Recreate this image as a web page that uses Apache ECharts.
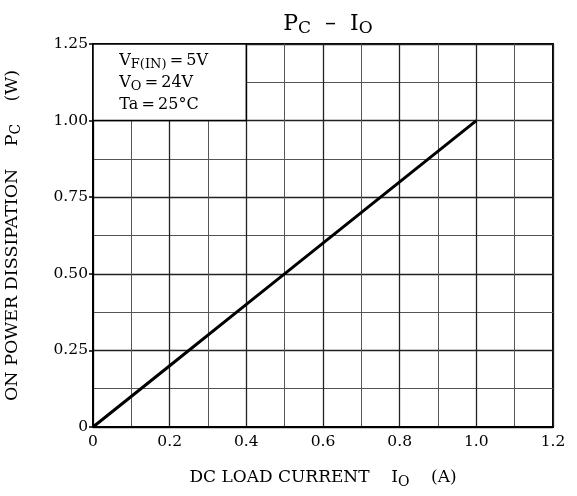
<!DOCTYPE html>
<html>
<head>
<meta charset="utf-8">
<script src="https://cdn.jsdelivr.net/npm/echarts@6/dist/echarts.min.js"></script>
<style>html,body{margin:0;padding:0;background:#fff}#c{width:577px;height:496px}</style>
</head>
<body>
<div id="c"></div>
<script>
var ioValues = [0, 0.2, 0.4, 0.6, 0.8, 1.0];
var pcValues = [0, 0.2, 0.4, 0.6, 0.8, 1.0];
var xTicks = [0, 0.2, 0.4, 0.6, 0.8, 1.0, 1.2];
var yTicks = [0, 0.25, 0.5, 0.75, 1.0, 1.25];
var noteBox = [[0, 1.0], [0.4, 1.25]];

var FONT = 'DejaVu Serif';
var chart = echarts.init(document.getElementById('c'));
var sub = function (s, p) { return { fontSize: s, fontFamily: FONT, color: '#000', fontWeight: 'normal', padding: [p, 0, 0, 0] }; };
var main = function (s) { return { fontSize: s, fontFamily: FONT, color: '#000', fontWeight: 'normal' }; };
var ts = '\u2009';

chart.setOption({
  animation: false,
  title: {
    text: '{m|P}{s|C}{m|  –  I}{s|O}',
    left: 323, top: 6, textAlign: 'center',
    textStyle: { fontWeight: 'normal', rich: { m: main(22), s: sub(17, 9) } }
  },
  grid: { left: 93, right: 24, top: 44, bottom: 69, show: true, borderColor: '#000', borderWidth: 2,
    backgroundColor: 'transparent', containLabel: false, outerBoundsMode: 'none' },
  xAxis: {
    type: 'value', min: 0, max: 1.2, interval: 0.2,
    name: '{m|DC LOAD CURRENT    I}{s|O}{m|    (A)}',
    nameLocation: 'middle', nameGap: 40,
    nameTextStyle: { rich: { m: main(17), s: sub(14, 8) } },
    axisLine: { show: true, lineStyle: { color: '#000', width: 2 } },
    axisTick: { show: false },
    axisLabel: { fontSize: 15.5, fontFamily: FONT, color: '#000', margin: 7,
      formatter: function (v) { return v === 0 ? '0' : v.toFixed(1); } },
    splitLine: { show: true, lineStyle: { color: '#222', width: 1.3 } },
    minorTick: { show: false, splitNumber: 2 },
    minorSplitLine: { show: true, lineStyle: { color: '#555', width: 1 } }
  },
  yAxis: {
    type: 'value', min: 0, max: 1.25, interval: 0.25,
    name: '{m|ON POWER DISSIPATION    P}{s|C}{m|    (W)}',
    nameLocation: 'middle', nameGap: 70, nameRotate: 90,
    nameTextStyle: { rich: { m: main(17.5), s: sub(14, 8) } },
    axisLine: { show: true, lineStyle: { color: '#000', width: 2 } },
    axisTick: { show: true, length: 4, lineStyle: { color: '#000', width: 1.5 } },
    axisLabel: { fontSize: 15.5, fontFamily: FONT, color: '#000', margin: 5,
      formatter: function (v) { return v === 0 ? '0' : v.toFixed(2); } },
    splitLine: { show: true, lineStyle: { color: '#222', width: 1.3 } },
    minorTick: { show: false, splitNumber: 2 },
    minorSplitLine: { show: true, lineStyle: { color: '#555', width: 1 } }
  },
  series: [{
    type: 'line',
    data: ioValues.map(function (x, i) { return [x, pcValues[i]]; }),
    symbol: 'none',
    lineStyle: { color: '#000', width: 3 },
    markArea: {
      silent: true,
      itemStyle: { color: '#fff', borderColor: '#000', borderWidth: 1.5 },
      label: {
        show: true, position: 'insideTopLeft', distance: 5, offset: [22, 2],
        formatter: '{m|V}{s|F(IN)}{m|' + ts + '=' + ts + '5V}\n{m|V}{s|O}{m|' + ts + '=' + ts + '24V}\n{m|Ta' + ts + '=' + ts + '25°C}',
        rich: {
          m: { fontSize: 16, fontFamily: FONT, color: '#000', lineHeight: 22 },
          s: { fontSize: 13, fontFamily: FONT, color: '#000', lineHeight: 22, padding: [7, 0, 0, 0] }
        }
      },
      data: [[{ coord: noteBox[0] }, { coord: noteBox[1] }]]
    }
  }]
});
</script>
</body>
</html>
